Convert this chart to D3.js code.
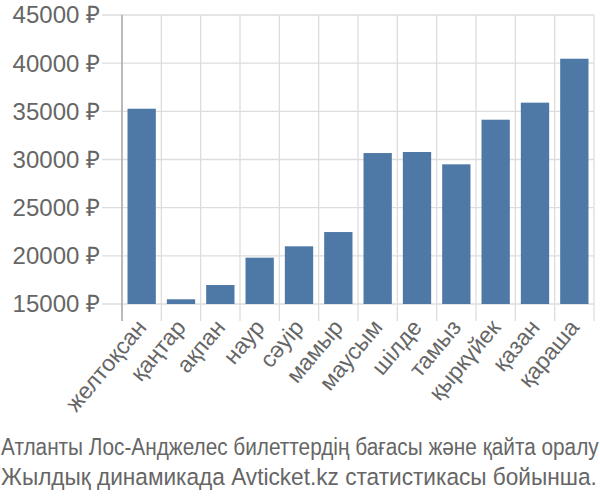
<!DOCTYPE html>
<html>
<head>
<meta charset="utf-8">
<script src="https://cdn.jsdelivr.net/npm/d3@7"></script>
<style>
  body { margin: 0; background: #fff; }
  svg text { fill: #666; }
</style>
</head>
<body>
<svg id="chart"></svg>
<script>
var months = ["желтоқсан", "қаңтар", "ақпан", "наур", "сәуір", "мамыр", "маусым", "шілде", "тамыз", "қыркүйек", "қазан", "қараша"];
var prices = [35270, 15490, 16970, 19810, 20990, 22470, 30670, 30780, 29500, 34130, 35900, 40460];
var yTicks = [15000, 20000, 25000, 30000, 35000, 40000, 45000];
var caption = ["Атланты Лос-Анджелес билеттердің бағасы және қайта оралу", "Жылдық динамикада Avticket.kz статистикасы бойынша."];
var captionWidth = [598, 596];

var W = 600, H = 500;
var margin = {top: 15, right: 6, bottom: 196, left: 122};
var width = W - margin.left - margin.right,
    height = H - margin.top - margin.bottom;

var svg = d3.select("#chart").attr("width", W).attr("height", H);
var g = svg.append("g").attr("transform", "translate(" + margin.left + "," + margin.top + ")");

var x = d3.scaleBand().domain(months).range([0, width]).paddingInner(0.28).paddingOuter(0.14);
var y = d3.scaleLinear().domain([15000, 45000]).range([height, 0]);

// horizontal grid + left ticks
g.selectAll(".hgrid").data(yTicks).enter().append("line")
    .attr("x1", -20).attr("x2", width)
    .attr("y1", function(d) { return y(d); })
    .attr("y2", function(d) { return y(d); })
    .style("stroke", "#ddd").style("stroke-width", 1.3);

// vertical grid at band edges + bottom ticks
var step = x.step();
var edges = d3.range(months.length + 1).map(function(i) { return i * step; });
g.selectAll(".vgrid").data(edges).enter().append("line")
    .attr("x1", function(d) { return d; }).attr("x2", function(d) { return d; })
    .attr("y1", 0).attr("y2", height + 17)
    .style("stroke", "#ddd").style("stroke-width", 1.3);

g.append("line").attr("x1", 0).attr("x2", 0).attr("y1", 0).attr("y2", height + 17)
    .style("stroke", "#aaa").style("stroke-width", 1.5);

g.selectAll(".bar").data(prices).enter().append("rect")
    .attr("x", function(d, i) { return x(months[i]); })
    .attr("y", function(d) { return y(d); })
    .attr("width", x.bandwidth())
    .attr("height", function(d) { return height - y(d); })
    .style("fill", "#4e79a7");

g.selectAll(".ylab").data(yTicks).enter().append("text")
    .attr("x", -22).attr("y", function(d) { return y(d); })
    .attr("dy", "0.35em")
    .style("text-anchor", "end")
    .style("font-family", "Liberation Sans, Arial, sans-serif")
    .style("font-size", "24px")
    .text(function(d) { return d + " ₽"; });

g.selectAll(".xlab").data(months).enter().append("text")
    .attr("transform", function(d) {
        return "translate(" + (x(d) + x.bandwidth() / 2 + 6) + "," + (height + 24) + ") rotate(-50)";
    })
    .style("text-anchor", "end")
    .style("font-family", "Liberation Sans, Arial, sans-serif")
    .style("font-size", "23px")
    .text(function(d) { return d; });

// caption is a condensed face in the original; squeeze it horizontally
svg.selectAll(".cap").data(caption).enter().append("text")
    .style("font-family", "Liberation Sans, Arial, sans-serif")
    .style("font-size", "23.5px")
    .text(function(d) { return d; })
    .attr("transform", function(d, i) {
        var k = captionWidth[i] / this.getComputedTextLength();
        return "translate(1," + (455 + i * 30) + ") scale(" + k + ",1)";
    });
</script>
</body>
</html>
